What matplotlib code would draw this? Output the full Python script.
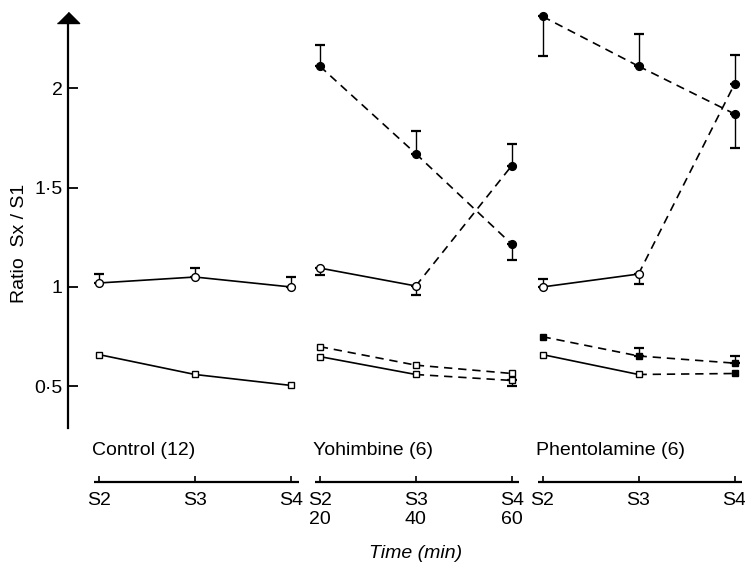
import numpy as np
import matplotlib
matplotlib.use("Agg")
import matplotlib.pyplot as plt

plt.rcParams['font.family'] = ['Liberation Sans', 'DejaVu Sans']

# ---------------- data ----------------
groups = ["Control (12)", "Yohimbine (6)", "Phentolamine (6)"]
stim_labels = ["S2", "S3", "S4"]
time_labels = ["20", "40", "60"]
group_start = [0.0, 2.3, 4.62]
yticks = [0.5, 1.0, 1.5, 2.0]
ytick_labels = ["0·5", "1", "1·5", "2"]

# Control
ctrl_circle = [1.02, 1.05, 1.00]
ctrl_circle_err_lo = [0, 0, 0]
ctrl_circle_err_up = [0.045, 0.045, 0.05]
ctrl_square = [0.66, 0.56, 0.505]

# Yohimbine
yoh_high = [2.11, 1.67, 1.215]
yoh_high_err_lo = [0, 0, 0.08]
yoh_high_err_up = [0.105, 0.115, 0]
yoh_circle = [1.095, 1.005, 1.61]
yoh_circle_err_lo = [0.035, 0.045, 0]
yoh_circle_err_up = [0, 0, 0.11]
yoh_sq_upper = [0.70, 0.607, 0.565]
yoh_sq_lower = [0.65, 0.56, 0.53]
yoh_sq_lower_err_lo = [0, 0, 0.03]

# Phentolamine
phe_high = [2.36, 2.11, 1.87]
phe_high_err_lo = [0.2, 0, 0.17]
phe_high_err_up = [0, 0.16, 0]
phe_circle = [1.00, 1.065, 2.02]
phe_circle_err_lo = [0, 0.05, 0]
phe_circle_err_up = [0.04, 0, 0.145]
phe_sq_filled = [0.75, 0.653, 0.617]
phe_sq_filled_err_up = [0, 0.04, 0.035]
phe_sq_open = [0.66, 0.56, 0.565]

# ---------------- figure ----------------
W, H = 745, 567
fig = plt.figure(figsize=(W / 100, H / 100), dpi=100)
px_left, px_bottom, px_top = 68, 428, 23
ax = fig.add_axes([px_left / W, (H - px_bottom) / H, 1 - px_left / W,
                   (px_bottom - px_top) / H])
step_px = 96.0
x0_px = 99.0
xlim = ((px_left - x0_px) / step_px, (W - x0_px) / step_px)
ax.set_xlim(*xlim)
ax.set_ylim(0.291, 2.327)

for s in ['top', 'right', 'bottom']:
    ax.spines[s].set_visible(False)
ax.spines['left'].set_linewidth(1.6)
ax.set_xticks([])
ax.set_yticks(yticks)
ax.set_yticklabels(ytick_labels, fontsize=14)
ax.tick_params(axis='y', direction='in', length=7, width=1.3, pad=4)
ax.set_ylabel("Ratio  Sx / S1", fontsize=14)
ax.yaxis.set_label_coords(-0.059, 0.457)

# arrow head on top of y axis
ax.plot([0], [1], marker=[(-1, 0), (1, 0), (0, 1)], ms=16, color='black',
        transform=ax.transAxes, clip_on=False, zorder=6)

LW = 1.2
DASH = (0, (5, 3.5))


def xs(g):
    return [group_start[g] + i for i in range(3)]


def series(g, y, styles, marker, fills, ms, err_lo=None, err_up=None):
    x = xs(g)
    if err_lo is not None or err_up is not None:
        lo = err_lo if err_lo is not None else [0] * 3
        up = err_up if err_up is not None else [0] * 3
        for i in range(3):
            if lo[i] > 0 or up[i] > 0:
                ax.errorbar([x[i]], [y[i]], yerr=[[lo[i]], [up[i]]], fmt='none',
                            ecolor='black', elinewidth=1.0, capsize=3.5,
                            capthick=1.6, zorder=2, clip_on=False)
    for i in range(2):
        ls = '-' if styles[i] == 's' else DASH
        ax.plot(x[i:i + 2], y[i:i + 2], color='black', lw=LW, linestyle=ls,
                zorder=3, clip_on=False)
    for i in range(3):
        fc = 'black' if fills[i] else 'white'
        ax.plot([x[i]], [y[i]], marker=marker, ms=ms, mfc=fc, mec='black',
                mew=1.0, linestyle='none', zorder=4, clip_on=False)


CMS, SMS = 5.6, 4.3
# Control
series(0, ctrl_circle, 'ss', 'o', [0, 0, 0], CMS, ctrl_circle_err_lo, ctrl_circle_err_up)
series(0, ctrl_square, 'ss', 's', [0, 0, 0], SMS)
# Yohimbine
series(1, yoh_high, 'dd', 'o', [1, 1, 1], CMS, yoh_high_err_lo, yoh_high_err_up)
series(1, yoh_circle, 'sd', 'o', [0, 0, 1], CMS, yoh_circle_err_lo, yoh_circle_err_up)
series(1, yoh_sq_upper, 'dd', 's', [0, 0, 0], SMS)
series(1, yoh_sq_lower, 'sd', 's', [0, 0, 0], SMS, yoh_sq_lower_err_lo, None)
# Phentolamine
series(2, phe_high, 'dd', 'o', [1, 1, 1], CMS, phe_high_err_lo, phe_high_err_up)
series(2, phe_circle, 'sd', 'o', [0, 0, 1], CMS, phe_circle_err_lo, phe_circle_err_up)
series(2, phe_sq_filled, 'dd', 's', [1, 1, 1], SMS, None, phe_sq_filled_err_up)
series(2, phe_sq_open, 'sd', 's', [0, 0, 1], SMS)

# ---------------- bottom stimulus axes ----------------
line_px, top2_px = 482, 440
ax2 = fig.add_axes([px_left / W, (H - line_px) / H, 1 - px_left / W,
                    (line_px - top2_px) / H])
ax2.set_xlim(*xlim)
ax2.set_ylim(0, 1)
ax2.patch.set_visible(False)
for s in ax2.spines.values():
    s.set_visible(False)
ax2.set_yticks([])
all_x, all_lab = [], []
for g in range(3):
    ax2.plot([group_start[g] - 0.05, group_start[g] + 2.08], [0, 0],
             color='black', lw=1.6, clip_on=False, solid_capstyle='butt')
    for i in range(3):
        all_x.append(group_start[g] + i)
        lab = stim_labels[i]
        if g == 1:
            lab = lab + "\n" + time_labels[i]
        all_lab.append(lab)
    ax2.text(group_start[g] - 0.07, 0.76, groups[g], fontsize=14,
             ha='left', va='center')
ax2.set_xticks(all_x)
ax2.set_xticklabels(all_lab, fontsize=14, linespacing=1.15)
ax2.tick_params(axis='x', direction='in', length=4, width=1.2, pad=7)

time_x_fig = ((group_start[1] + 1 - xlim[0]) / (xlim[1] - xlim[0])
              * (1 - px_left / W) + px_left / W)
fig.text(time_x_fig, (H - 553) / H, "Time (min)",
         fontsize=14, style='italic', ha='center', va='center')

fig.savefig("out.png", dpi=100)
